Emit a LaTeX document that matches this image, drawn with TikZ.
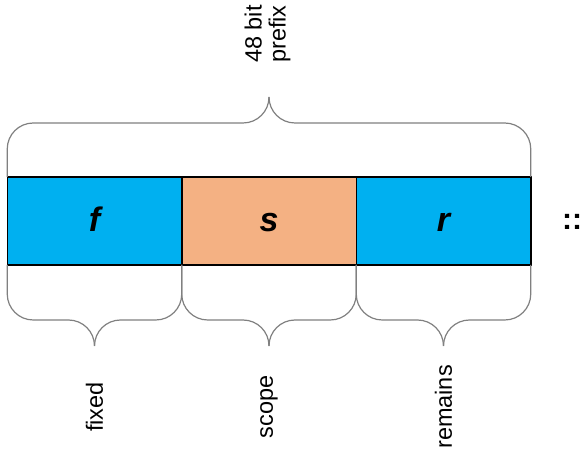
\documentclass[tikz,border=0pt]{standalone}
\usepackage{fontspec}
\setmainfont{Liberation Sans}
\usetikzlibrary{positioning}
\definecolor{fieldblue}{HTML}{00B0F0}
\definecolor{fieldorange}{HTML}{F4B183}

\begin{document}
\begin{tikzpicture}[
x=1pt, y=1pt, node distance=0pt, field/.style={rectangle, draw=black, line width=1.5pt, minimum width=174.5pt, minimum height=88pt, inner sep=0pt, outer sep=0pt, text height=22pt, text depth=0pt, font=\fontsize{34}{34}\selectfont\bfseries\itshape}, bluefield/.style={field, fill=fieldblue}, orangefield/.style={field, fill=fieldorange}, curly/.style={line width=1.2pt, draw=black!50, rounded corners=26pt}, tag/.style={rotate=90, inner sep=0pt, align=center, font=\fontsize{23.5}{24}\selectfont} ]
\useasboundingbox (0,0) rectangle (582,450);
\node[bluefield] (fixed) at (94.5,229) {f};
\node[orangefield, right=of fixed] (scope) {s};
\node[bluefield, right=of scope] (remains) {r};
\node[inner sep=0pt, font=\fontsize{30}{30}\selectfont\bfseries] (more) at (572,228) {::};
\coordinate (highrow) at (0,327);
\coordinate (lowrow) at (0,130);
\coordinate (labelrow) at (0,43);
\coordinate (prefixtip) at (269,353);
\coordinate (fixedtip) at ([yshift=-81pt]fixed.south);
\coordinate (scopetip) at ([yshift=-81pt]scope.south);
\coordinate (remainstip) at ([yshift=-81pt]remains.south);
\node[tag] (prefixlabel) at (267.5,416) {48 bit\\prefix};
\node[tag] (fixedlabel) at (fixed.south |- labelrow) {fixed};
\node[tag] (scopelabel) at (scope.south |- labelrow) {scope};
\node[tag] (remainslabel) at (remains.south |- labelrow) {remains};
\draw[curly] (prefixtip) |- (fixed.north west |- highrow) -- (fixed.north west);
\draw[curly] (prefixtip) |- (remains.north east |- highrow) -- (remains.north east);
\draw[curly] (fixedtip) |- (fixed.south west |- lowrow) -- (fixed.south west);
\draw[curly] (fixedtip) |- (fixed.south east |- lowrow) -- (fixed.south east);
\draw[curly] (scopetip) |- (scope.south west |- lowrow) -- (scope.south west);
\draw[curly] (scopetip) |- (scope.south east |- lowrow) -- (scope.south east);
\draw[curly] (remainstip) |- (remains.south west |- lowrow) -- (remains.south west);
\draw[curly] (remainstip) |- (remains.south east |- lowrow) -- (remains.south east);
\end{tikzpicture}
\end{document}
